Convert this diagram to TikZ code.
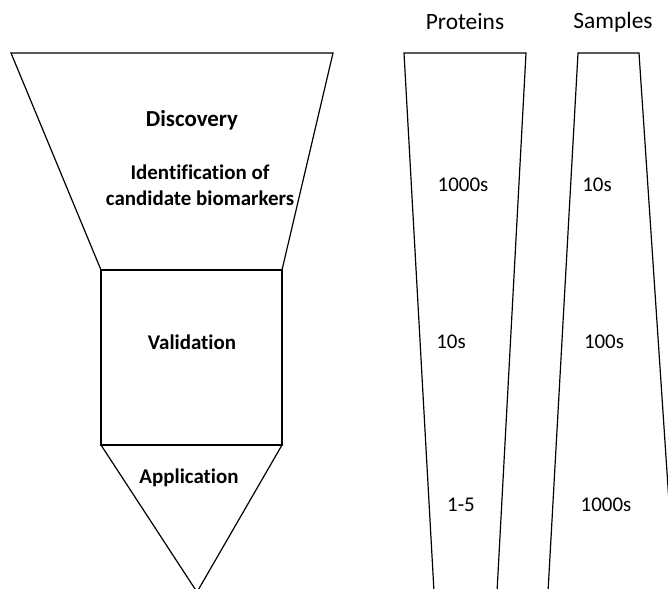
\documentclass[tikz,border=0pt]{standalone}
\usepackage{fontspec}
\setmainfont{Carlito}[Ligatures=CommonOff]
\usepackage{tikz}

\tikzset{
  funnel/.style={line width=1.2pt, line join=miter},
  stage/.style={font=\fontsize{21}{26}\selectfont\bfseries, align=center},
  count/.style={font=\fontsize{21}{26}\selectfont},
  header/.style={font=\fontsize{23.5}{28}\selectfont}
}

\begin{document}
\begin{tikzpicture}[x=1bp,y=-1bp]
  \clip (0,0) rectangle (668,589);

  %% Funnel
  \coordinate (dtl) at (11,53);
  \coordinate (dtr) at (333,53);
  \coordinate (vtl) at (101,270);
  \coordinate (vtr) at (282,270);
  \coordinate (vbl) at (101,445);
  \coordinate (vbr) at (282,445);
  \coordinate (tip) at (197,592);
  \draw[funnel] (dtl)--(dtr)--(vtr)--(vtl)--cycle;
  \draw[funnel] (vtl) rectangle (vbr);
  \draw[funnel] (vbl)--(vbr)--(tip)--cycle;
  \node[stage, font=\fontsize{23}{28}\selectfont\bfseries] (disc) at (192,120) {Discovery};
  \node[stage] (ident) at (200,185) {Identification of\\candidate biomarkers};
  \node[stage] (valid) at (192,342) {Validation};
  \node[stage] (appl) at (189,478) {Application};

  %% Columns
  \coordinate (ptl) at (404,53);
  \coordinate (ptr) at (526,53);
  \coordinate (pbl) at (434,592);
  \coordinate (pbr) at (497,592);
  \coordinate (stl) at (578,53);
  \coordinate (str) at (639,53);
  \coordinate (sbl) at (548,592);
  \coordinate (sbr) at (675,592);
  \draw[funnel] (pbl)--(ptl)--(ptr)--(pbr);
  \draw[funnel] (sbl)--(stl)--(str)--(sbr);
  \node[header] (prot) at (465,22) {Proteins};
  \node[header] (samp) at (613,22) {Samples};
  \node[count] (p1) at (463,185) {1000s};
  \node[count] (p2) at (451,342) {10s};
  \node[count] (p3) at (461,505) {1-5};
  \node[count] (s1) at (597,185) {10s};
  \node[count] (s2) at (604,342) {100s};
  \node[count] (s3) at (606,505) {1000s};
\end{tikzpicture}
\end{document}
